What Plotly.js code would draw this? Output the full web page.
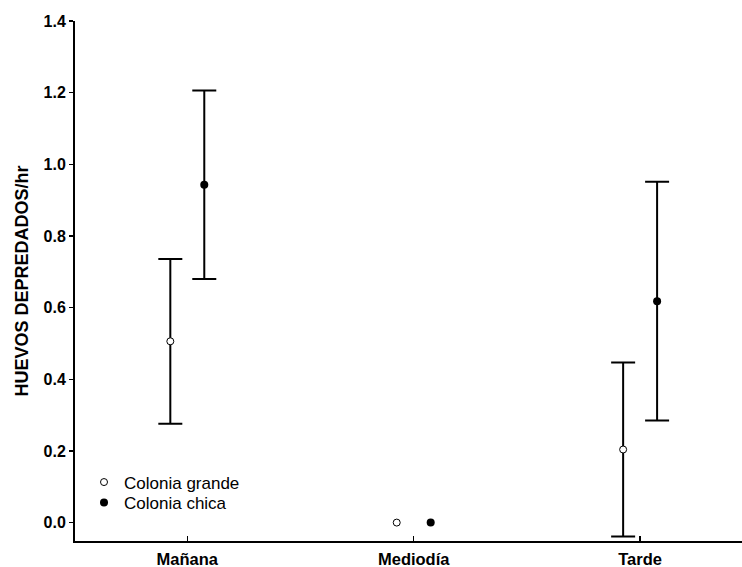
<!DOCTYPE html>
<html>
<head>
<meta charset="utf-8">
<script src="https://cdn.plot.ly/plotly-3.0.1.min.js"></script>
<style>html,body{margin:0;padding:0;background:#fff;}#chart{width:742px;height:567px;}</style>
</head>
<body>
<div id="chart"></div>
<script>
const categories = ["Mañana", "Mediodía", "Tarde"];
const grandeValues = [0.506, 0, 0.204];
const grandeErrors = [0.230, NaN, 0.243];
const chicaValues = [0.943, 0, 0.618];
const chicaErrors = [0.263, NaN, 0.333];
const yTickVals = [0, 0.2, 0.4, 0.6, 0.8, 1.0, 1.2, 1.4];
const seriesNames = ["Colonia grande", "Colonia chica"];

const FONT = "Arial, 'Liberation Sans', sans-serif";

const errStyle = {type: 'data', visible: true, color: '#000', thickness: 2, width: 12};

const traces = [
  {
    type: 'scatter', mode: 'markers', orientation: 'v',
    name: seriesNames[0], x: categories, y: grandeValues, legend: 'legend',
    error_y: Object.assign({array: grandeErrors}, errStyle),
    marker: {size: 7, color: '#fff', line: {color: '#000', width: 1}}
  },
  {
    type: 'scatter', mode: 'markers', orientation: 'v',
    name: seriesNames[1], x: categories, y: chicaValues, legend: 'legend2',
    error_y: Object.assign({array: chicaErrors}, errStyle),
    marker: {size: 8, color: '#000', line: {color: '#000', width: 0}}
  }
];

const legendBase = {
  xanchor: 'left', yanchor: 'middle',
  bgcolor: 'rgba(0,0,0,0)', borderwidth: 0,
  font: {family: FONT, size: 17, color: '#000'}
};

const layout = {
  width: 742, height: 567,
  margin: {l: 75, r: 0, t: 21, b: 26, pad: 0},
  paper_bgcolor: '#fff', plot_bgcolor: '#fff',
  font: {family: FONT, color: '#000'},
  scattermode: 'group',
  scattergap: 0.7,
  showlegend: true,
  legend: Object.assign({x: 0.0135, y: 0.1125}, legendBase),
  legend2: Object.assign({x: 0.0135, y: 0.073}, legendBase),
  xaxis: {
    type: 'category', categoryorder: 'array', categoryarray: categories,
    range: [-0.496, 2.45], autorange: false,
    showline: true, linecolor: '#000', linewidth: 2,
    ticks: 'inside', ticklen: 5, tickwidth: 1.5, tickcolor: '#000',
    ticklabelstandoff: 2,
    showgrid: false, zeroline: false, automargin: false,
    tickfont: {family: FONT, size: 16.5, color: '#000', weight: 'bold'}
  },
  yaxis: {
    range: [-0.0514, 1.4], autorange: false,
    tickvals: yTickVals, tickformat: '.1f',
    showline: true, linecolor: '#000', linewidth: 2,
    ticks: 'outside', ticklen: 4, tickwidth: 1.5, tickcolor: '#000',
    showgrid: false, zeroline: false, automargin: false,
    tickfont: {family: FONT, size: 16, color: '#000', weight: 'bold'},
    title: {text: 'HUEVOS DEPREDADOS/hr', standoff: 10,
            font: {family: FONT, size: 18, color: '#000', weight: 'bold'}}
  }
};

Plotly.newPlot('chart', traces, layout, {displayModeBar: false, staticPlot: true});
</script>
</body>
</html>
